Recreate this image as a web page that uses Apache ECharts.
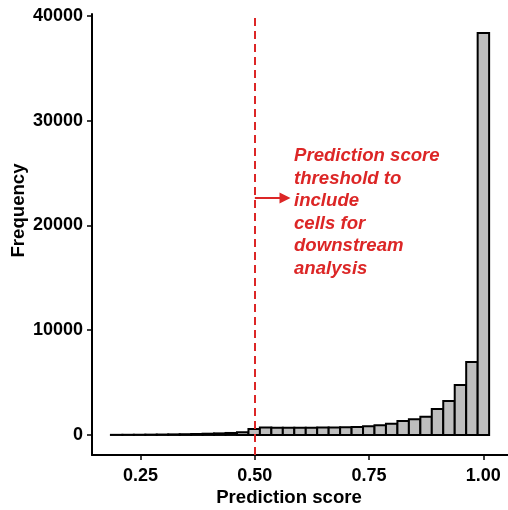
<!DOCTYPE html>
<html>
<head>
<meta charset="utf-8">
<script src="https://cdn.jsdelivr.net/npm/echarts@6/dist/echarts.min.js"></script>
<style>
html,body{margin:0;padding:0;background:#fff;}
#chart{width:508px;height:510px;}
</style>
</head>
<body>
<div id="chart"></div>
<script>
// ---- data ----
const binStart = [0.1850, 0.2101, 0.2352, 0.2602, 0.2853, 0.3104, 0.3355, 0.3606, 0.3856, 0.4107,
                  0.4358, 0.4609, 0.4860, 0.5110, 0.5361, 0.5612, 0.5863, 0.6114, 0.6364, 0.6615,
                  0.6866, 0.7117, 0.7368, 0.7618, 0.7869, 0.8120, 0.8371, 0.8622, 0.8872, 0.9123,
                  0.9374, 0.9625, 0.9876];
const binWidth = 0.0251;
const counts = [10, 15, 20, 30, 40, 55, 70, 90, 120, 150,
                190, 260, 560, 700, 690, 680, 690, 690, 700, 710,
                730, 770, 840, 935, 1080, 1335, 1495, 1745, 2480, 3245,
                4770, 6965, 38350];
const xTicks = [0.25, 0.50, 0.75, 1.00];
const yTicks = [0, 10000, 20000, 30000, 40000];
const threshold = 0.5;
const arrowY = 22600;
const arrowEndX = 0.566;
const annotation = ['Prediction score', 'threshold to', 'include', 'cells for', 'downstream', 'analysis'];
const xTitle = 'Prediction score';
const yTitle = 'Frequency';

const xMin = 0.1436, xMax = 1.054;
const yMin = -1913, yMax = 40168;

const FONT = '"Liberation Sans", Arial, Helvetica, sans-serif';
const RED = '#dc2626';

const histData = binStart.map((s, i) => [s, s + binWidth, counts[i]]);

const chart = echarts.init(document.getElementById('chart'), null, {renderer: 'canvas'});
chart.setOption({
  animation: false,
  backgroundColor: '#fff',
  grid: {left: 92, right: 0, top: 14, bottom: 55, containLabel: false, outerBoundsMode: 'none'},
  xAxis: {
    type: 'value', min: xMin, max: xMax,
    name: xTitle, nameLocation: 'middle', nameGap: 33, nameMoveOverlap: false,
    nameTextStyle: {fontFamily: FONT, fontWeight: 'bold', fontSize: 18.6, color: '#000', padding: [0, 22, 0, 0]},
    axisLine: {show: true, onZero: false, lineStyle: {color: '#000', width: 2}},
    axisTick: {show: true, length: 5, lineStyle: {color: '#000', width: 1.5}, customValues: xTicks},
    axisLabel: {show: true, margin: 12, fontFamily: FONT, fontWeight: 'bold', fontSize: 18, color: '#000',
      customValues: xTicks, formatter: v => v.toFixed(2)},
    splitLine: {show: false}
  },
  yAxis: {
    type: 'value', min: yMin, max: yMax,
    name: yTitle, nameLocation: 'middle', nameGap: 64, nameRotate: 90, nameMoveOverlap: false,
    nameTextStyle: {fontFamily: FONT, fontWeight: 'bold', fontSize: 18.6, color: '#000', padding: [0, 0, 0, 48]},
    axisLine: {show: true, onZero: false, lineStyle: {color: '#000', width: 2}},
    axisTick: {show: true, length: 5, lineStyle: {color: '#000', width: 1.5}, customValues: yTicks},
    axisLabel: {show: true, margin: 9, fontFamily: FONT, fontWeight: 'bold', fontSize: 18, color: '#000',
      customValues: yTicks, formatter: v => String(v)},
    splitLine: {show: false}
  },
  series: [
    {
      type: 'custom',
      data: histData,
      encode: {x: [0, 1], y: 2},
      renderItem: function (params, api) {
        const p0 = api.coord([api.value(0), api.value(2)]);
        const p1 = api.coord([api.value(1), 0]);
        return {
          type: 'rect',
          shape: {x: p0[0], y: p0[1], width: p1[0] - p0[0], height: p1[1] - p0[1]},
          style: {fill: '#bebebe', stroke: '#000', lineWidth: 2}
        };
      },
      z: 2
    },
    {
      type: 'lines',
      coordinateSystem: 'cartesian2d',
      polyline: false,
      symbol: ['none', 'none'],
      lineStyle: {color: RED, width: 2, type: [8, 5], opacity: 1},
      data: [{coords: [[threshold, yMin], [threshold, yMax]]}],
      z: 3
    },
    {
      type: 'lines',
      coordinateSystem: 'cartesian2d',
      symbol: ['none', 'triangle'],
      symbolSize: 11,
      lineStyle: {color: RED, width: 2, opacity: 1},
      data: [{coords: [[threshold, arrowY], [arrowEndX, arrowY]]}],
      z: 3
    }
  ],
  graphic: [
    {
      type: 'text',
      left: 294, top: 145,
      style: {
        text: annotation.join('\n'),
        font: 'italic bold 18.6px ' + FONT,
        fill: RED,
        lineHeight: 22.5
      }
    }
  ]
});
</script>
</body>
</html>
